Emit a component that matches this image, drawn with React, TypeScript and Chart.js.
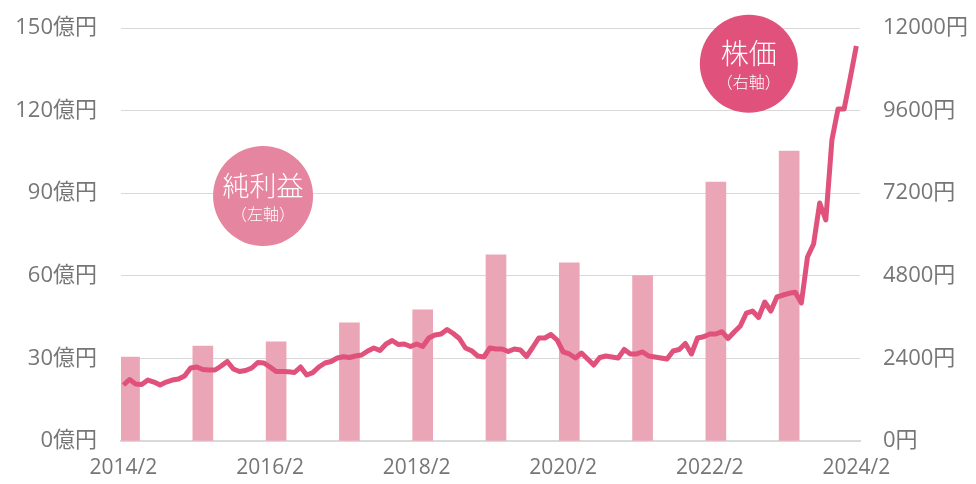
import React, { useEffect, useRef } from "react";
import { Chart, registerables } from "chart.js";

Chart.register(...registerables);

// Monthly stock price (円), 2014/2 .. 2024/2 (121 months)
const stockPrice = [
  1627, 1787, 1656, 1642, 1772, 1714, 1627, 1714, 1772, 1801, 1889, 2121,
  2150, 2078, 2063, 2063, 2179, 2310, 2092, 2019, 2048, 2121, 2281, 2266,
  2150, 2019, 2019, 2014, 1990, 2150, 1918, 1985, 2150, 2266, 2310, 2412,
  2449, 2426, 2470, 2499, 2615, 2702, 2630, 2818, 2920, 2804, 2818, 2746,
  2818, 2746, 2993, 3080, 3109, 3240, 3124, 2978, 2702, 2624, 2470, 2441,
  2702, 2673, 2673, 2600, 2673, 2644, 2455, 2717, 2993, 2993, 3094, 2935,
  2586, 2528, 2412, 2557, 2383, 2208, 2426, 2470, 2441, 2412, 2659, 2528,
  2528, 2586, 2470, 2441, 2412, 2383, 2615, 2659, 2833, 2528, 2993, 3031,
  3109, 3109, 3176, 2978, 3167, 3341, 3719, 3777, 3588, 4039, 3777, 4184,
  4242, 4292, 4321, 4010, 5346, 5724, 6915, 6421, 8746, 9647, 9647, 10547,
  11477,
];

// Annual net profit (億円), placed at the month index of each fiscal period
const profitPeriods = [1, 13, 25, 37, 49, 61, 73, 85, 97, 109];
const netProfit = [30.5, 34.5, 36, 42.9, 47.6, 67.6, 64.7, 60.1, 94, 105.3];

const xTickPositions = [0, 24, 48, 72, 96, 120];
const xTickLabels = ["2014/2", "2016/2", "2018/2", "2020/2", "2022/2", "2024/2"];

const FONT = "'Open Sans', 'Noto Sans CJK JP', sans-serif";
const CJK = "'Noto Sans CJK JP', sans-serif";
const TEXT_COLOR = "#767676";
const GRID_COLOR = "#d9d9d9";
const LINE_COLOR = "#e0517b";
const BAR_COLOR = "#eaa6b6";
const CLEAR = "rgba(0,0,0,0)";

const bubblePlugin = {
  id: "bubbles",
  afterDatasetsDraw(chart: any) {
    const { ctx, scales } = chart;
    const x = scales.x;
    const y = scales.y;
    const draw = (
      mx: number,
      vy: number,
      r: number,
      color: string,
      title: string,
      sub: string,
      titleSize: number
    ) => {
      const cx = x.getPixelForValue(mx);
      const cy = y.getPixelForValue(vy);
      ctx.save();
      ctx.beginPath();
      ctx.arc(cx, cy, r, 0, Math.PI * 2);
      ctx.fillStyle = color;
      ctx.fill();
      ctx.fillStyle = "#ffffff";
      ctx.textAlign = "center";
      ctx.textBaseline = "middle";
      ctx.font = `300 ${titleSize}px ${CJK}`;
      ctx.fillText(title, cx, cy - 10);
      ctx.font = `300 16px ${CJK}`;
      ctx.fillText(sub, cx, cy + 18);
      ctx.restore();
    };
    draw(22.86, 89.0, 50, "#e5859f", "純利益", "（左軸）", 27);
    draw(102.4, 137.0, 49, "#e0517b", "株価", "（右軸）", 28);
  },
};

export default function App() {
  const ref = useRef<HTMLCanvasElement | null>(null);

  useEffect(() => {
    if (!ref.current) return;
    const chart = new Chart(ref.current, {
      type: "bar",
      data: {
        datasets: [
          {
            type: "line",
            label: "株価",
            data: stockPrice.map((v, i) => ({ x: i, y: v })),
            yAxisID: "y1",
            borderColor: LINE_COLOR,
            borderWidth: 5,
            pointRadius: 0,
            tension: 0,
            borderJoinStyle: "round",
            order: 1,
          } as any,
          {
            type: "bar",
            label: "純利益",
            data: profitPeriods.map((m, i) => ({ x: m, y: netProfit[i] })),
            yAxisID: "y",
            backgroundColor: BAR_COLOR,
            barThickness: 20,
            order: 2,
          } as any,
        ],
      },
      options: {
        animation: false,
        responsive: false,
        layout: { padding: { top: 28, left: 0, right: 0, bottom: 0 } },
        plugins: {
          legend: { display: false },
          tooltip: { enabled: false },
        },
        scales: {
          x: {
            type: "linear",
            min: -0.4,
            max: 120.6,
            offset: false,
            grid: { display: false, drawTicks: false },
            border: { display: true, color: GRID_COLOR, width: 2 },
            afterBuildTicks: (axis: any) => {
              axis.ticks = xTickPositions.map((v) => ({ value: v }));
            },
            afterFit: (scale: any) => {
              scale.height = 43;
            },
            ticks: {
              autoSkip: false,
              maxRotation: 0,
              padding: 14,
              color: TEXT_COLOR,
              font: { family: FONT, size: 21 },
              callback: (v: any) => {
                const idx = xTickPositions.indexOf(Number(v));
                return idx >= 0 ? xTickLabels[idx] : "";
              },
            },
          },
          y: {
            type: "linear",
            position: "left",
            min: 0,
            max: 150,
            grid: {
              color: GRID_COLOR,
              lineWidth: 1,
              drawTicks: true,
              tickLength: 20,
              tickColor: CLEAR,
            },
            border: { display: false },
            afterFit: (scale: any) => {
              scale.width = 121;
            },
            ticks: {
              stepSize: 30,
              padding: 4,
              color: TEXT_COLOR,
              font: { family: FONT, size: 22 },
              callback: (v: any) => `${v}億円`,
            },
          },
          y1: {
            type: "linear",
            position: "right",
            min: 0,
            max: 12000,
            grid: {
              display: true,
              drawOnChartArea: false,
              color: CLEAR,
              drawTicks: true,
              tickLength: 19,
              tickColor: CLEAR,
            },
            border: { display: false },
            afterFit: (scale: any) => {
              scale.width = 116;
            },
            ticks: {
              stepSize: 2400,
              padding: 4,
              color: TEXT_COLOR,
              font: { family: FONT, size: 22 },
              callback: (v: any) => `${v}円`,
            },
          },
        },
      },
      plugins: [bubblePlugin],
    } as any);
    return () => chart.destroy();
  }, []);

  return (
    <div style={{ position: "absolute", left: 0, top: 0, width: 976, height: 484, background: "#ffffff" }}>
      <canvas ref={ref} width={976} height={484} style={{ width: 976, height: 484 }} />
    </div>
  );
}
